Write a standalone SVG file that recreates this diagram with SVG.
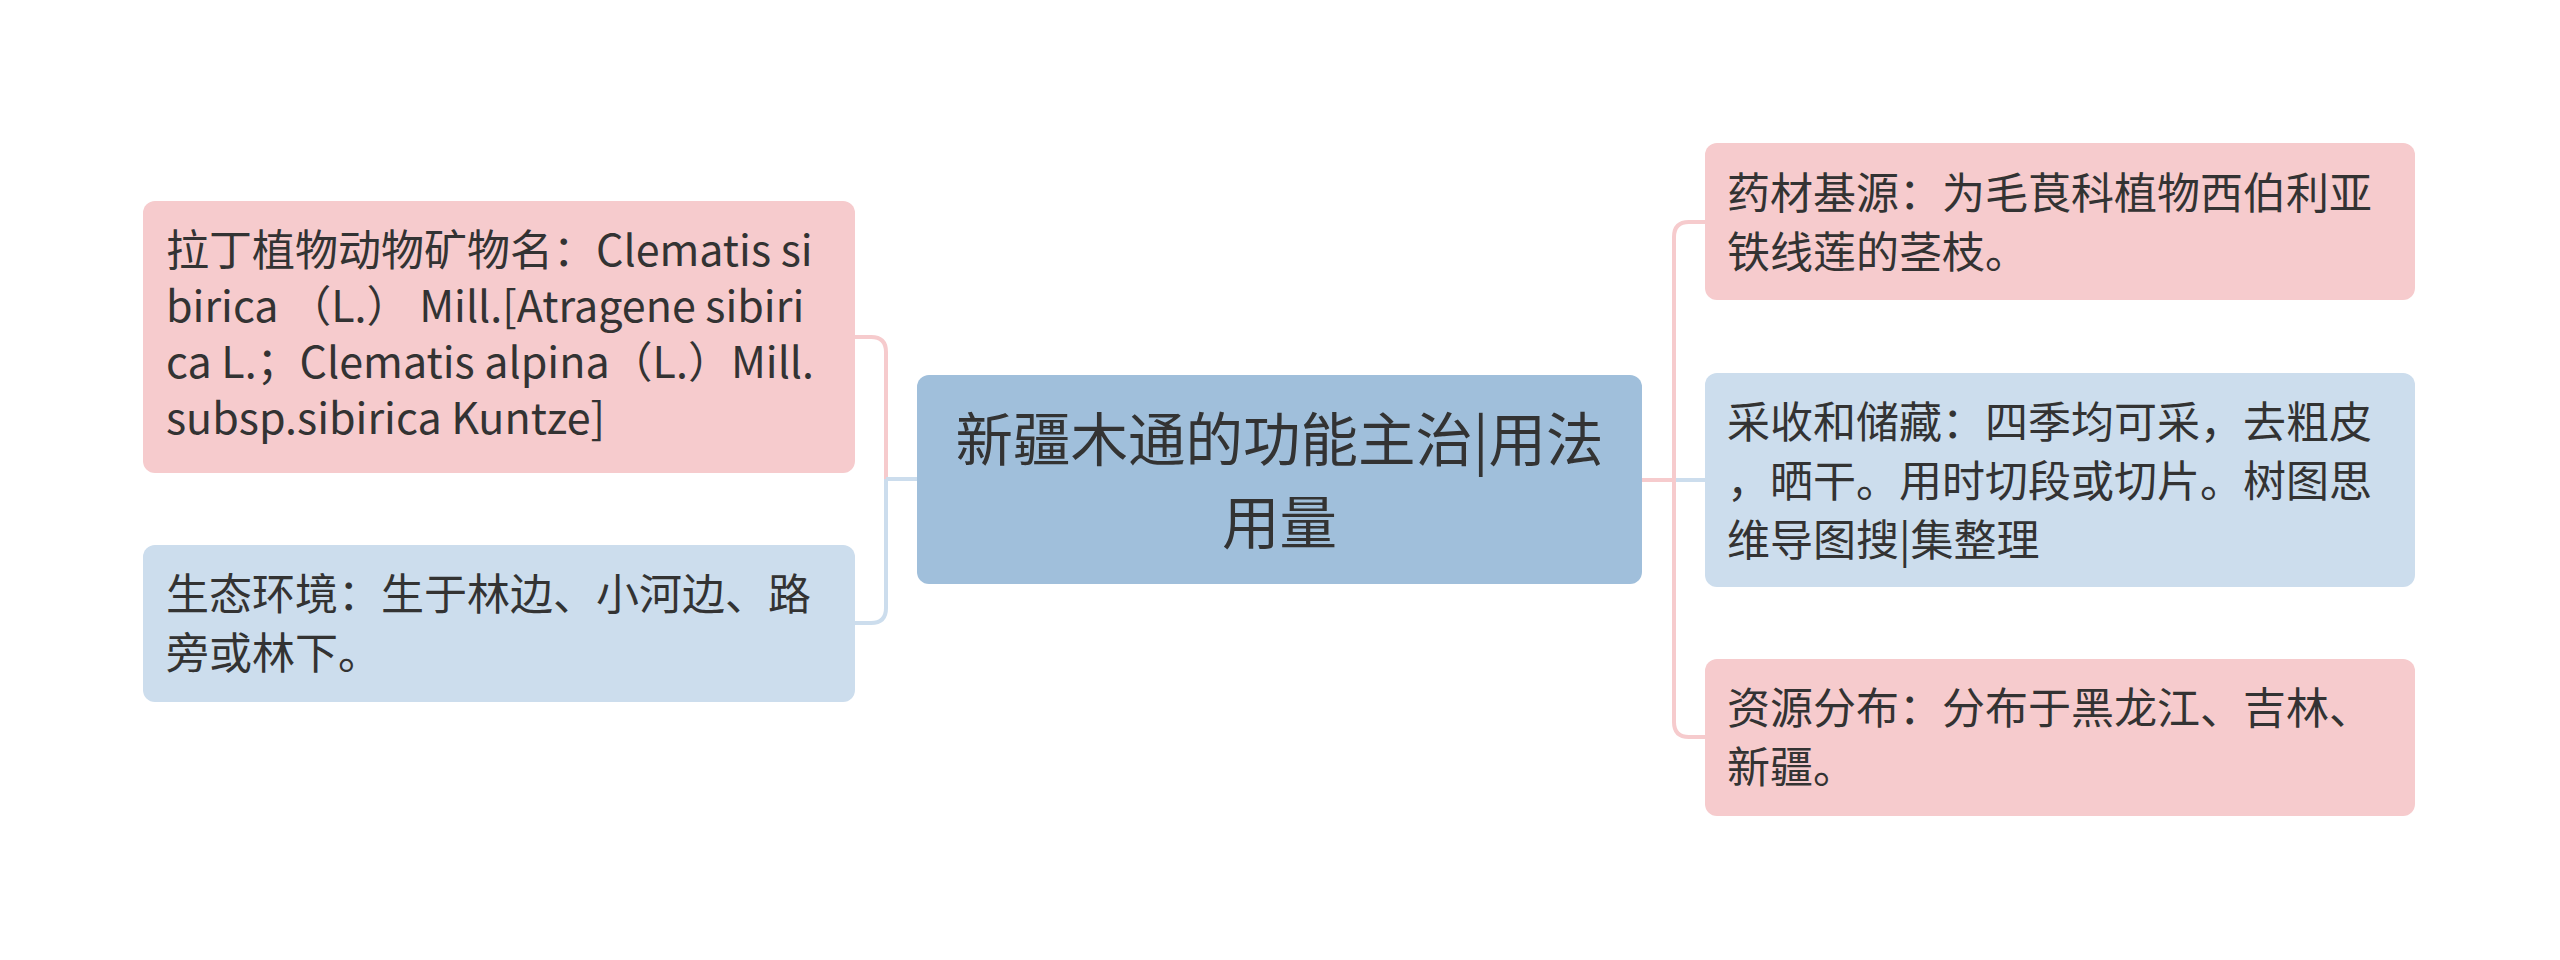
<svg xmlns="http://www.w3.org/2000/svg" width="2560" height="960" viewBox="0 0 2560 960">
<style>
.t{font-family:"Noto Sans CJK SC","Noto Sans",sans-serif;fill:#333333;}
.s{font-size:43px;}
.c{font-size:57.5px;text-anchor:middle;}
.pink{fill:#f6cbcd;}
.blue{fill:#ccdded;}
.main{fill:#a0bfdb;}
.lp{fill:none;stroke:#f6cbcd;stroke-width:4;}
.lb{fill:none;stroke:#ccdded;stroke-width:4;}
</style>
<rect width="2560" height="960" fill="#ffffff"/>
<g id="connectors">
<path class="lp" d="M855,337 H871 Q886,337 886,352 V479"/>
<path class="lb" d="M886,479 V608 Q886,623 871,623 H855"/>
<path class="lb" d="M886,479 H917"/>
<path class="lb" d="M1674,480 H1705"/>
<path class="lp" d="M1642,480 H1674"/>
<path class="lp" d="M1705,222 H1689 Q1674,222 1674,237 V722 Q1674,737 1689,737 H1705"/>
</g>
<g id="center">
<rect class="main" x="917" y="375" width="725" height="209" rx="12"/>
<text class="t c"><tspan x="1279.5" y="461">新疆木通的功能主治|用法</tspan><tspan x="1279.5" y="544">用量</tspan></text>
</g>
<g id="left1">
<rect class="pink" x="143" y="201" width="712" height="272" rx="12"/>
<text class="t s"><tspan x="166" y="266">拉丁植物动物矿物名：Clematis si</tspan><tspan x="166" y="322">birica （L.） Mill.[Atragene sibiri</tspan><tspan x="166" y="378">ca L.；Clematis alpina（L.）Mill.</tspan><tspan x="166" y="434">subsp.sibirica Kuntze]</tspan></text>
</g>
<g id="left2">
<rect class="blue" x="143" y="545" width="712" height="157" rx="12"/>
<text class="t s"><tspan x="166" y="610">生态环境：生于林边、小河边、路</tspan><tspan x="166" y="669">旁或林下。</tspan></text>
</g>
<g id="right1">
<rect class="pink" x="1705" y="143" width="710" height="157" rx="12"/>
<text class="t s"><tspan x="1727" y="209">药材基源：为毛茛科植物西伯利亚</tspan><tspan x="1727" y="268">铁线莲的茎枝。</tspan></text>
</g>
<g id="right2">
<rect class="blue" x="1705" y="373" width="710" height="214" rx="12"/>
<text class="t s"><tspan x="1727" y="438">采收和储藏：四季均可采，去粗皮</tspan><tspan x="1727" y="497">，晒干。用时切段或切片。树图思</tspan><tspan x="1727" y="556">维导图搜|集整理</tspan></text>
</g>
<g id="right3">
<rect class="pink" x="1705" y="659" width="710" height="157" rx="12"/>
<text class="t s"><tspan x="1727" y="724">资源分布：分布于黑龙江、吉林、</tspan><tspan x="1727" y="783">新疆。</tspan></text>
</g>
</svg>
